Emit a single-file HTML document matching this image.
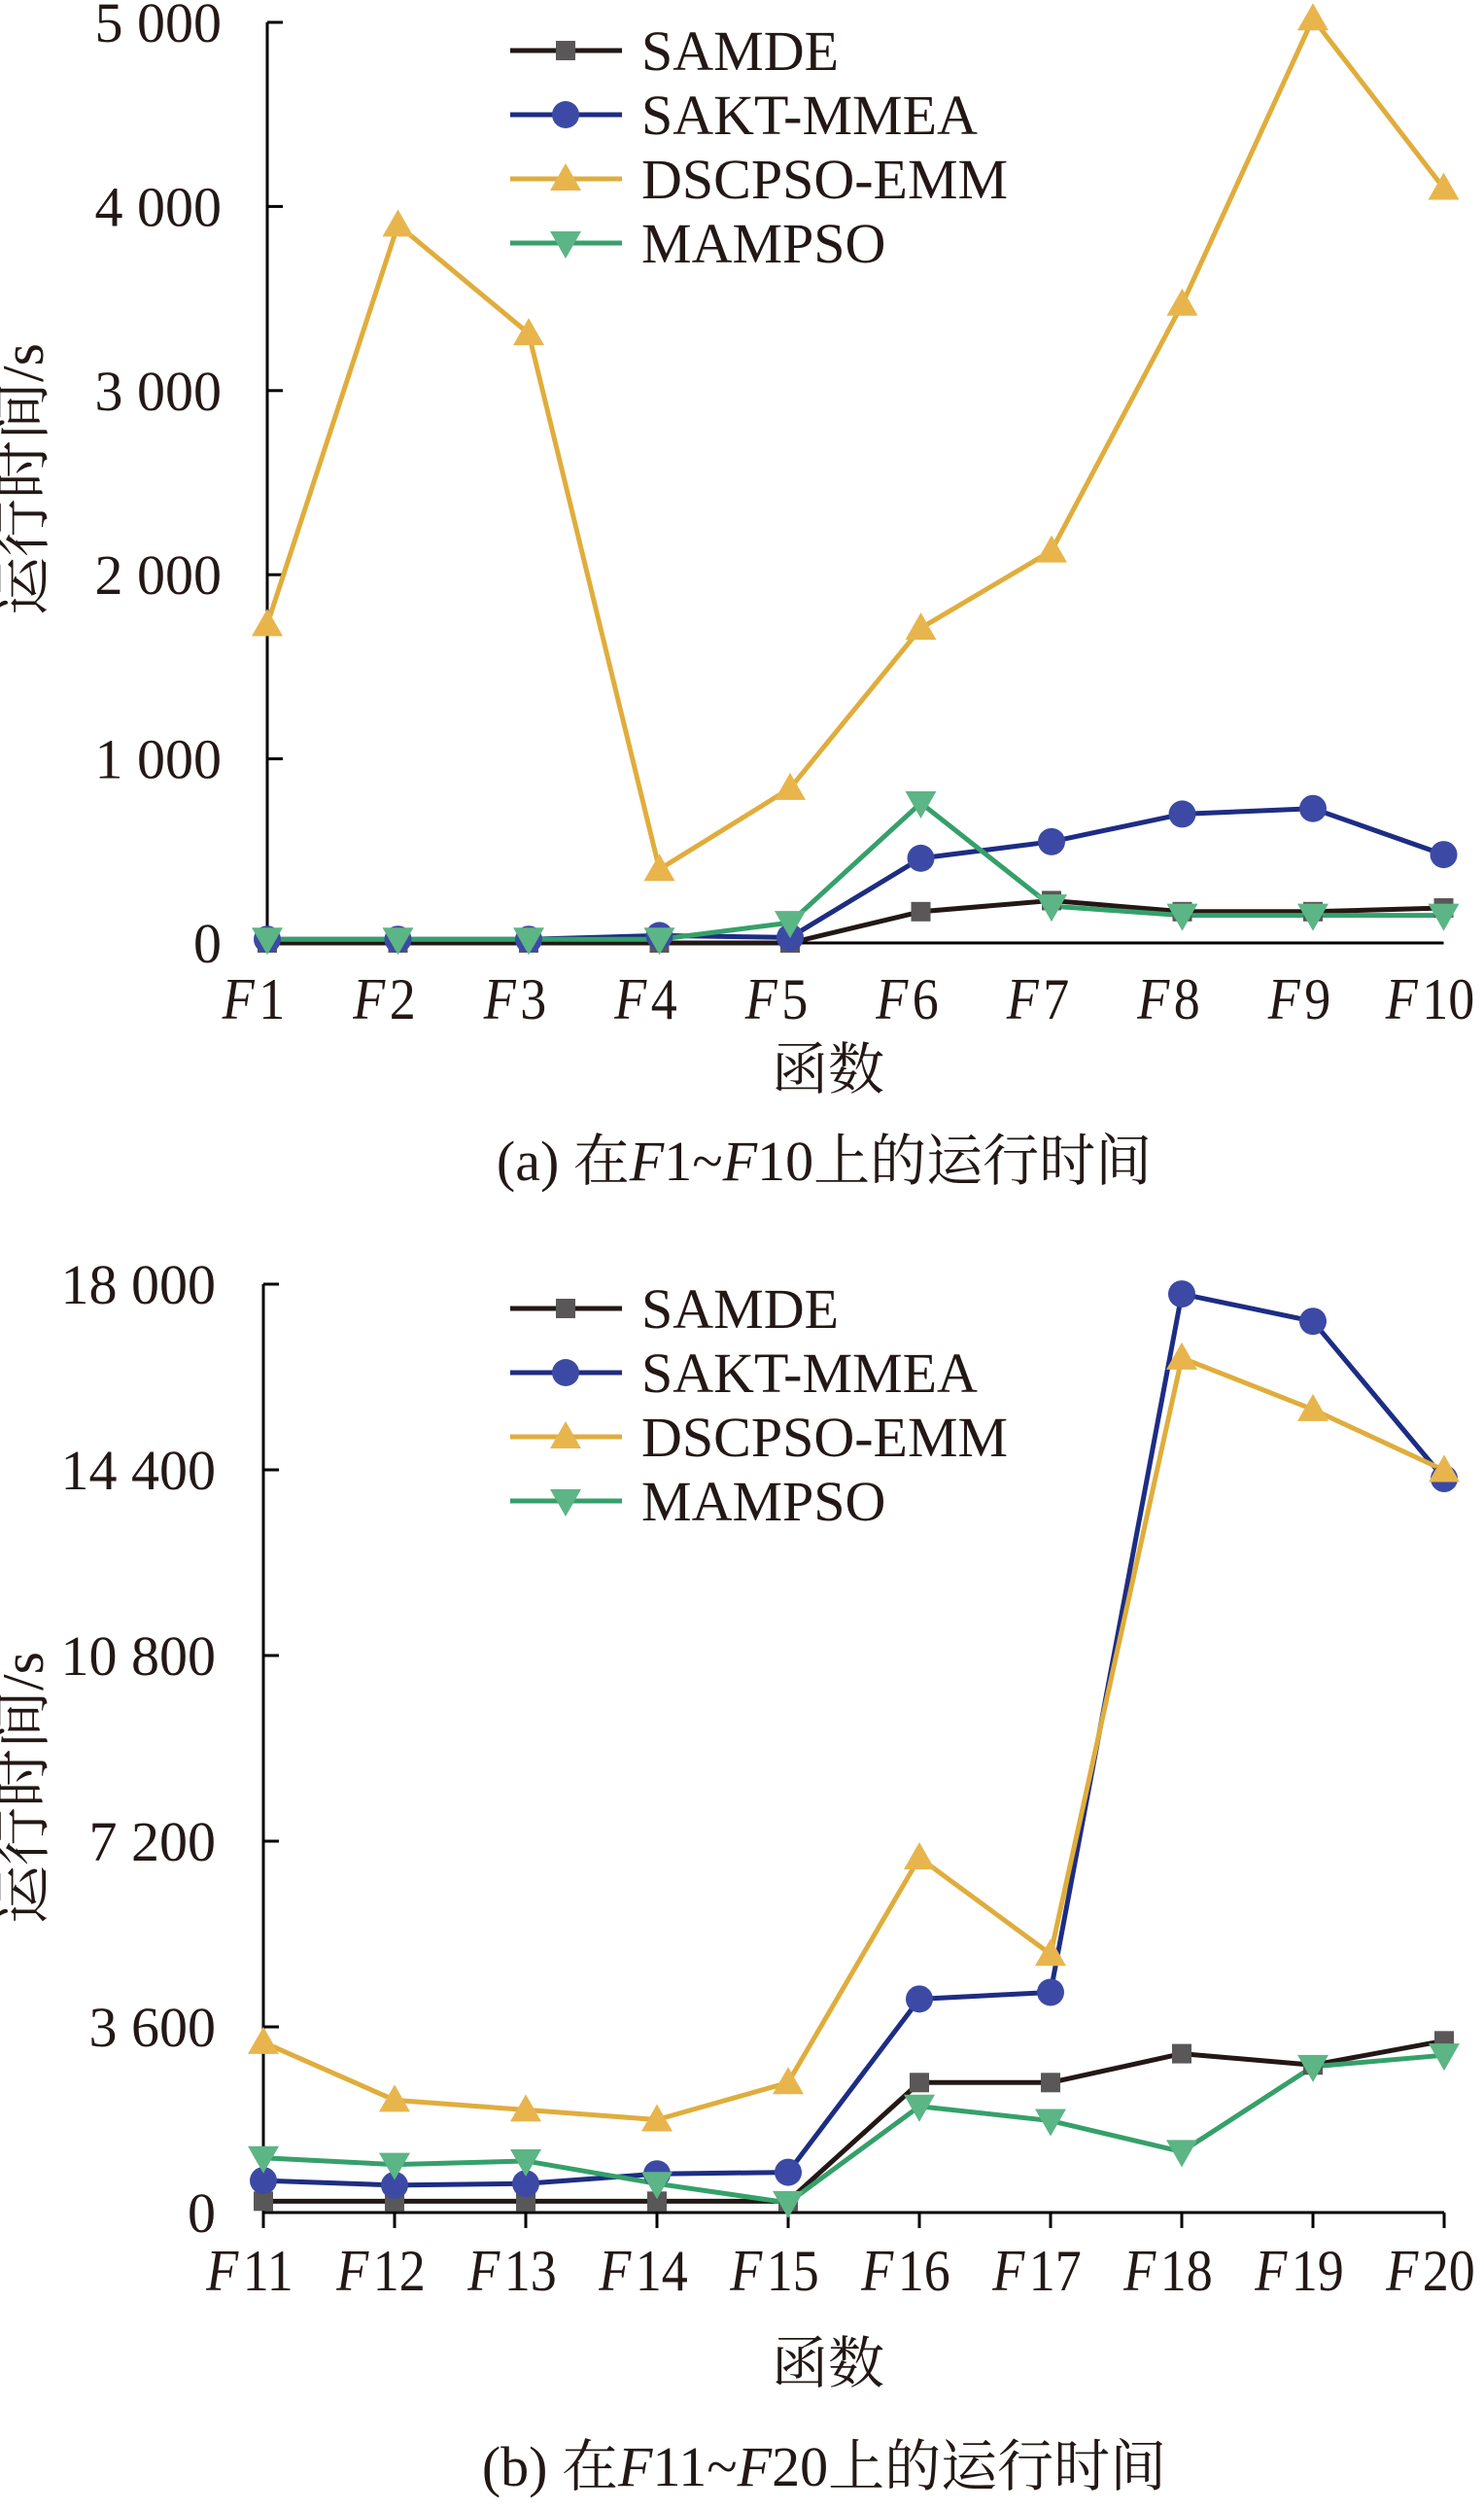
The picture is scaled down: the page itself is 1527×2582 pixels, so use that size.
<!DOCTYPE html>
<html><head><meta charset="utf-8"><style>
html,body{margin:0;padding:0;background:#fff;}
svg{display:block;}
text{font-family:"Liberation Serif","Noto Serif CJK SC",serif;fill:#231815;}
</style></head><body>
<svg id="s" width="1527" height="2582" viewBox="0 0 1527 2582" xmlns="http://www.w3.org/2000/svg"></svg>
<script>
const s=document.getElementById('s');
let h='';
const C={
 samde:{l:'#231815',m:'#595757'},
 sakt:{l:'#1d2d84',m:'#3c4aa5'},
 dsc:{l:'#e0ad3c',m:'#e8b54d'},
 mam:{l:'#35a06a',m:'#5cb585'}
};
function mk(t,x,y,c){
 if(t=='sq')return `<rect x="${x-10}" y="${y-10}" width="20" height="20" fill="${c}"/>`;
 if(t=='ci')return `<circle cx="${x}" cy="${y}" r="14" fill="${c}"/>`;
 if(t=='up')return `<polygon points="${x-16},${y+12} ${x+16},${y+12} ${x},${y-16}" fill="${c}"/>`;
 return `<polygon points="${x-16},${y-12} ${x+16},${y-12} ${x},${y+16}" fill="${c}"/>`;
}
function chart(o){
 const X=i=>o.x0+i*o.dx, Y=v=>o.y0-(v/o.max)*(o.y0-o.yt);
 h+=`<line x1="${o.x0}" y1="${o.yt}" x2="${o.x0}" y2="${o.y0}" stroke="#000" stroke-width="3"/>`;
 h+=`<line x1="${o.x0}" y1="${o.y0}" x2="${X(9)}" y2="${o.y0}" stroke="#000" stroke-width="3"/>`;
 o.ticks.forEach((t,i)=>{const y=Y(t[0]);
  h+=`<line x1="${o.x0}" y1="${y}" x2="${o.x0+16}" y2="${y}" stroke="#000" stroke-width="3"/>`;
  h+=`<text x="${o.lx}" y="${y+20}" font-size="58" text-anchor="end">${t[1]}</text>`;});
 for(let i=0;i<10;i++){ if(o.xt) h+=`<line x1="${X(i)}" y1="${o.y0}" x2="${X(i)}" y2="${o.y0+16}" stroke="#000" stroke-width="3"/>`;
  h+=`<text transform="translate(${X(i)-14},${o.xly}) scale(0.9,1)" font-size="60" text-anchor="middle"><tspan font-style="italic">F</tspan><tspan dx="5">${o.n0+i}</tspan></text>`;}
 const ser=[['samde','sq'],['sakt','ci'],['dsc','up'],['mam','dn']];
 ser.forEach(([k,m])=>{const d=o.d[k];
  h+=`<polyline fill="none" stroke="${C[k].l}" stroke-width="5" stroke-linejoin="round" points="${d.map((v,i)=>X(i)+','+Y(v)).join(' ')}"/>`;});
 ser.forEach(([k,m])=>{o.d[k].forEach((v,i)=>h+=mk(m,X(i),Y(v),C[k].m));});
 const names=['SAMDE','SAKT-MMEA','DSCPSO-EMM','MAMPSO'];
 ser.forEach(([k,m],j)=>{const y=o.ly+j*66;
  h+=`<line x1="525" y1="${y}" x2="640" y2="${y}" stroke="${C[k].l}" stroke-width="5"/>`;
  h+=mk(m,582,y,C[k].m);
  h+=`<text x="660" y="${y+20}" font-size="58">${names[j]}</text>`;});
 h+=`<text transform="translate(${o.tx},${o.ty}) rotate(-90)" font-size="60" text-anchor="middle">运行时间/s</text>`;
 h+=`<text x="852" y="${o.fy}" font-size="58" text-anchor="middle">函数</text>`;
 h+=`<text x="848" y="${o.cy}" font-size="58" text-anchor="middle">${o.cap}</text>`;
}
chart({x0:275,dx:134.5,y0:970,yt:23,max:5000,lx:228,n0:1,xly:1048,xt:false,
 ticks:[[0,'0'],[1000,'1 000'],[2000,'2 000'],[3000,'3 000'],[4000,'4 000'],[5000,'5 000']],
 d:{dsc:[1730,3900,3310,400,840,1710,2130,3470,5020,4100],
    sakt:[20,20,20,40,30,460,550,700,730,480],
    samde:[0,0,0,0,0,170,230,170,170,190],
    mam:[20,20,20,20,110,760,200,150,150,150]},
 ly:52,tx:44,ty:493,fy:1120,cy:1214,
 cap:'(a) 在<tspan font-style="italic">F</tspan>1~<tspan font-style="italic">F</tspan>10上的运行时间'});
chart({x0:271,dx:135,y0:2276,yt:1321,max:18000,lx:222,n0:11,xly:2356,xt:true,
 ticks:[[0,'0'],[3600,'3 600'],[7200,'7 200'],[10800,'10 800'],[14400,'14 400'],[18000,'18 000']],
 d:{dsc:[3300,2180,1990,1800,2520,6880,5010,16570,15570,14390],
    sakt:[620,530,560,750,780,4140,4270,17810,17280,14230],
    samde:[220,220,220,220,220,2520,2520,3080,2860,3330],
    mam:[1060,930,1000,560,190,2060,1780,1180,2830,3050]},
 ly:1346,tx:44,ty:1839,fy:2451,cy:2557,
 cap:'(b) 在<tspan font-style="italic">F</tspan>11~<tspan font-style="italic">F</tspan>20上的运行时间'});
s.innerHTML=h;
</script>
</body></html>
